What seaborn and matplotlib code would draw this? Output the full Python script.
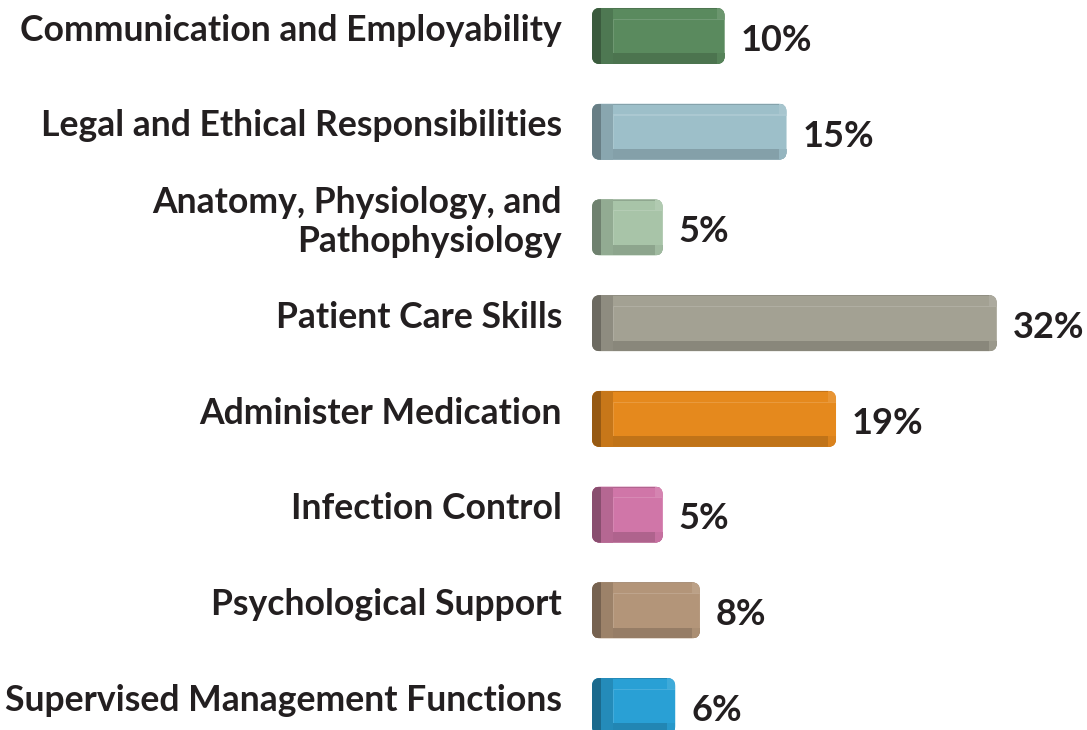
import matplotlib
matplotlib.use("Agg")
import matplotlib.pyplot as plt
import seaborn as sns
from matplotlib.patches import FancyBboxPatch, Rectangle
from matplotlib.colors import to_rgb

categories = [
    "Communication and Employability",
    "Legal and Ethical Responsibilities",
    "Anatomy, Physiology, and\nPathophysiology",
    "Patient Care Skills",
    "Administer Medication",
    "Infection Control",
    "Psychological Support",
    "Supervised Management Functions",
]
values = [10, 15, 5, 32, 19, 5, 8, 6]
value_labels = ["10%", "15%", "5%", "32%", "19%", "5%", "8%", "6%"]
colors = ["#5a8a5e", "#9dbfc9", "#a8c4a8", "#a3a193",
          "#e5891d", "#d076a8", "#b39579", "#29a0d5"]

TEXT = "#231f20"
FONT = ["Lato", "DejaVu Sans"]

sns.set_theme(style="white")
plt.rcParams["font.family"] = FONT


def shade(c, f):
    r, g, b = to_rgb(c)
    if f < 1:
        return (r * f, g * f, b * f)
    return (r + (1 - r) * (f - 1), g + (1 - g) * (f - 1), b + (1 - b) * (f - 1))


fig = plt.figure(figsize=(10.87, 7.3), dpi=100)
ax_left = 601 / 1087
ax = fig.add_axes([ax_left, 0.0, 1 - ax_left, 1.0])

sns.barplot(x=values, y=categories, hue=categories, palette=colors,
            legend=False, orient="h", width=0.585, ax=ax)

ax.set_xlim(0, 39.29)
ax.set_ylim(7.25, -0.376)

# px -> data units (for caps, bevels, rounded corners)
xu = 39.29 / ((1 - ax_left) * 1087)
yu = 7.626 / 730
cap = 9 * xu

for p, col in zip(list(ax.patches), colors):
    x0, y0 = p.get_x(), p.get_y()
    w, h = p.get_width(), p.get_height()
    p.set_visible(False)
    bx = x0 - cap
    bw = w + cap
    body = FancyBboxPatch((bx, y0), bw, h,
                          boxstyle=f"round,pad=0,rounding_size={8 * xu}",
                          mutation_aspect=yu / xu,
                          facecolor=col, edgecolor="none", zorder=2,
                          clip_on=False)
    ax.add_patch(body)
    overlays = [
        # bottom bevel
        Rectangle((bx, y0 + h * 0.81), bw, h * 0.19, facecolor=shade(col, 0.84)),
        # top highlight line
        Rectangle((bx, y0 + h * 0.19), bw, h * 0.022, facecolor=shade(col, 1.14)),
        # top thin dark edge
        Rectangle((bx, y0), bw, h * 0.02, facecolor=shade(col, 0.85)),
        # left inner bevel
        Rectangle((bx, y0), cap + 12 * xu, h, facecolor=shade(col, 0.87)),
        # inner bevel light edge
        Rectangle((bx + cap + 12 * xu, y0 + h * 0.19), 1.2 * xu, h * 0.62,
                  facecolor=shade(col, 1.12)),
        # left end cap
        Rectangle((bx, y0), cap, h, facecolor=shade(col, 0.66)),
        # right end corners
        Rectangle((bx + bw - 8 * xu, y0), 8 * xu, h * 0.19, facecolor=shade(col, 1.1)),
        Rectangle((bx + bw - 8 * xu, y0 + h * 0.81), 8 * xu, h * 0.19,
                  facecolor=shade(col, 0.95)),
    ]
    for r in overlays:
        r.set_edgecolor("none")
        r.set_zorder(3)
        r.set_transform(ax.transData)
        r.set_clip_path(body)
        ax.add_patch(r)

for i, (v, lab) in enumerate(zip(values, value_labels)):
    ax.text(v + 16 * xu, i + 0.155, lab, ha="left", va="baseline",
            fontsize=26, fontweight="bold", color=TEXT, family=FONT)

# category labels, right-aligned left of the bars
ytf = ax.get_yaxis_transform()
for i, cat in enumerate(categories):
    ax.text(-39 / ((1 - ax_left) * 1087), i - 0.06, cat, transform=ytf,
            ha="right", va="center", fontsize=25.6, fontweight="bold",
            color=TEXT, family=FONT, linespacing=1.22)

ax.set_xlabel("")
ax.set_ylabel("")
ax.set_xticks([])
ax.set_yticks([])
sns.despine(ax=ax, left=True, bottom=True)

fig.savefig("out.png", dpi=100)
